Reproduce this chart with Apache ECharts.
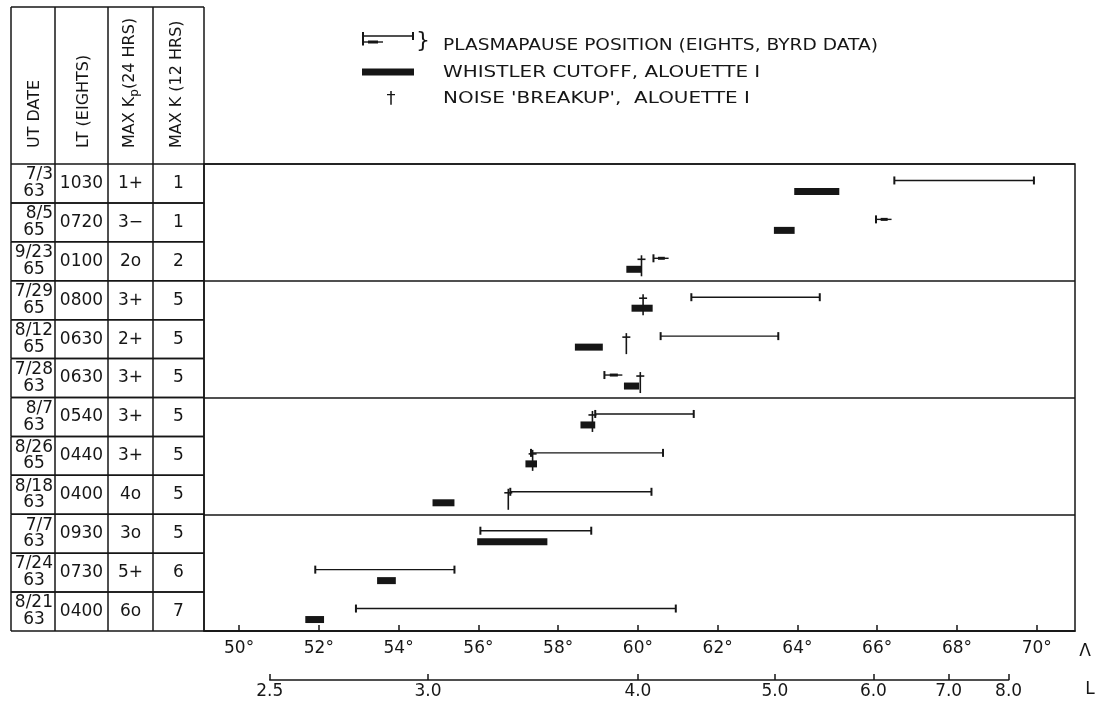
<!DOCTYPE html>
<html><head><meta charset="utf-8">
<script src="https://cdn.jsdelivr.net/npm/echarts@6/dist/echarts.min.js"></script>
<style>html,body{margin:0;padding:0;background:#fff;}#c{width:1099px;height:704px;}</style>
</head><body><div id="c"></div>
<script>
// ---------- data ----------
const dateMD = ['7/3','8/5','9/23','7/29','8/12','7/28','8/7','8/26','8/18','7/7','7/24','8/21'];
const dateYY = ['63','65','65','65','65','63','63','65','63','63','63','63'];
const ltEights = ['1030','0720','0100','0800','0630','0630','0540','0440','0400','0930','0730','0400'];
const maxKp24 = ['1+','3\u2212','2o','3+','2+','3+','3+','3+','4o','3o','5+','6o'];
const maxK12 = ['1','1','2','5','5','5','5','5','5','5','6','7'];
// plasmapause position (Eights, Byrd data), invariant latitude in degrees
const ppStart = [66.43,65.97,60.39,61.34,60.57,59.16,58.93,57.32,56.80,56.05,51.91,52.93];
const ppEnd   = [69.93,66.36,60.77,64.56,63.52,59.61,61.40,60.63,60.34,58.83,55.40,60.95];
const ppKind  = ['range','short','short','range','range','short','range','range','range','range','range','range'];
// whistler cutoff, Alouette I
const whStart = [63.92,63.41,59.71,59.84,58.42,59.65,58.56,57.18,54.85,55.97,53.46,51.66];
const whEnd   = [65.05,63.93,60.08,60.37,59.12,60.03,58.93,57.47,55.40,57.73,53.93,52.13];
// noise 'breakup', Alouette I
const noiseBreakup = [null,null,60.09,60.13,59.71,60.06,58.86,57.36,56.75,null,null,null];
// tick labels
const lambdaTicks = [50,52,54,56,58,60,62,64,66,68,70];
const lTicks = [2.5,3.0,4.0,5.0,6.0,7.0,8.0];
const headers = ['UT DATE','LT (EIGHTS)','MAX K{s|p}(24 HRS)','MAX K (12 HRS)'];
const legendTexts = ['PLASMAPAUSE POSITION (EIGHTS, BYRD DATA)','WHISTLER CUTOFF, ALOUETTE I',"NOISE 'BREAKUP',  ALOUETTE I"];

// ---------- layout / style ----------
const INK = '#161616';
const FONT = 'DejaVu Sans';
const G = {left: 204, top: 164, width: 871, height: 467};
const xMin = 49.12, xMax = 70.96;
const pxPerDeg = G.width / (xMax - xMin);
const lamOfL = L => Math.acos(1 / Math.sqrt(L)) * 180 / Math.PI;
const LofLam = a => 1 / Math.pow(Math.cos(a * Math.PI / 180), 2);
const lx0 = G.left + (lamOfL(lTicks[0]) - xMin) * pxPerDeg;
const lx1 = G.left + (lamOfL(lTicks[lTicks.length - 1]) - xMin) * pxPerDeg;
const colEdges = [0, 44, 97, 142, 193];
const T = {left: 11, top: G.top, width: 193, height: G.height};
const rows = dateMD.map((_, i) => i);

function ln(x1, y1, x2, y2, w) {
  return {type: 'line', shape: {x1, y1, x2, y2}, style: {stroke: INK, lineWidth: w || 1.5}};
}
function tx(text, x, y, align, size) {
  return {type: 'text', style: {text, x, y, align, verticalAlign: 'middle', fill: INK,
    font: (size || 17) + 'px "' + FONT + '"'}};
}

function renderTable(params, api) {
  const i = api.value(0);
  const top = api.coord([0, i])[1];
  const bot = api.coord([0, i + 1])[1];
  const h = bot - top;
  const xs = colEdges.map(c => api.coord([c, i])[0]);
  const ch = [ln(xs[0], top, xs[4], top), ln(xs[0], bot, xs[4], bot)];
  xs.forEach(x => ch.push(ln(x, top, x, bot)));
  ch.push(tx(dateMD[i], xs[1] - 2, top + h * 0.28, 'right'));
  ch.push(tx(dateYY[i], (xs[0] + xs[1]) / 2 + 1, top + h * 0.71, 'center'));
  ch.push(tx(ltEights[i], (xs[1] + xs[2]) / 2, (top + bot) / 2, 'center'));
  ch.push(tx(maxKp24[i], (xs[2] + xs[3]) / 2, (top + bot) / 2, 'center'));
  ch.push(tx(maxK12[i], (xs[3] + xs[4]) / 2, (top + bot) / 2, 'center'));
  return {type: 'group', children: ch};
}

function renderPP(params, api) {
  const r = api.value(2) + 0.5;
  const s = api.coord([api.value(0), r]);
  const e = api.coord([api.value(1), r]);
  const y = s[1] - 3;
  const ch = [ln(s[0], y, e[0], y, 1.4), ln(s[0], y - 4, s[0], y + 4, 2)];
  if (ppKind[params.dataIndex] === 'range') {
    ch.push(ln(e[0], y - 4, e[0], y + 4, 2));
  } else {
    ch.push(ln(s[0] + (e[0] - s[0]) * 0.3, y, s[0] + (e[0] - s[0]) * 0.75, y, 3));
  }
  return {type: 'group', children: ch};
}

function renderWh(params, api) {
  const r = api.value(2) + 0.5;
  const s = api.coord([api.value(0), r]);
  const e = api.coord([api.value(1), r]);
  return {type: 'rect', shape: {x: s[0], y: s[1] + 8 - 3.5, width: e[0] - s[0], height: 7},
    style: {fill: INK}};
}

function renderNoise(params, api) {
  const p = api.coord([api.value(0), api.value(1) + 0.5]);
  return {type: 'group', children: [
    ln(p[0], p[1] - 6, p[0], p[1] + 15, 1.6),
    ln(p[0] - 4, p[1] - 2, p[0] + 4, p[1] - 2, 1.6)
  ]};
}

// ---------- header & legend graphics ----------
const graphics = [];
graphics.push(ln(T.left, 7, T.left + T.width, 7));
colEdges.forEach(c => graphics.push(ln(T.left + c, 7, T.left + c, T.top)));
const headerX = [35, 84, 130, 177];
headers.forEach((h, k) => {
  graphics.push({type: 'text', x: headerX[k], y: 148, rotation: Math.PI / 2,
    style: {text: h, align: 'left', verticalAlign: 'middle', fill: INK, font: '16px "' + FONT + '"',
      rich: {s: {fontSize: 12, fontFamily: FONT, fill: INK, padding: [9, 0, 0, 0]}}}});
});
// legend icons
graphics.push(ln(363, 36, 413, 36, 1.4), ln(363, 32, 363, 40, 2), ln(413, 32, 413, 40, 2));
graphics.push(ln(363, 42, 383, 42, 1.4), ln(363, 38.5, 363, 45.5, 2), ln(368, 42, 378, 42, 3));
graphics.push({type: 'text', x: 416, y: 41, style: {text: '}', align: 'left', verticalAlign: 'middle',
  fill: INK, font: '22px "' + FONT + '"'}});
graphics.push({type: 'rect', shape: {x: 362, y: 68.5, width: 52, height: 7}, style: {fill: INK}});
graphics.push({type: 'text', x: 391, y: 99, style: {text: '\u2020', align: 'center', verticalAlign: 'middle',
  fill: INK, font: '18px "' + FONT + '"'}});
const legendY = [46.5, 73, 99];
const legendScale = [1.24, 1.33, 1.33];
legendTexts.forEach((t, k) => graphics.push({type: 'text', x: 443, y: legendY[k], scaleX: legendScale[k],
  style: {text: t, align: 'left', verticalAlign: 'middle', fill: INK, font: '15px "' + FONT + '"'}}));
// axis names
graphics.push({type: 'text', x: 1085, y: 652, style: {text: '\u039B', align: 'center', verticalAlign: 'middle',
  fill: INK, font: '17px "' + FONT + '"'}});
graphics.push({type: 'text', x: 1090, y: 690, style: {text: 'L', align: 'center', verticalAlign: 'middle',
  fill: INK, font: '17px "' + FONT + '"'}});

const chart = echarts.init(document.getElementById('c'));
chart.setOption({
  animation: false,
  backgroundColor: '#fff',
  grid: [
    {left: G.left, top: G.top, width: G.width, height: G.height, show: true, borderColor: INK, borderWidth: 1.5, backgroundColor: 'transparent'},
    {left: T.left, top: T.top, width: T.width, height: T.height},
    {left: lx0, width: lx1 - lx0, top: 640, height: 40}
  ],
  xAxis: [
    {type: 'value', gridIndex: 0, min: xMin, max: xMax, position: 'bottom',
      axisLine: {show: true, onZero: false, lineStyle: {color: INK, width: 1.5}},
      axisTick: {show: true, inside: true, length: 6, customValues: lambdaTicks, lineStyle: {color: INK, width: 1.5}},
      axisLabel: {customValues: lambdaTicks, formatter: v => v + '\u00B0', color: INK, fontFamily: FONT, fontSize: 17, margin: 9},
      splitLine: {show: false}},
    {type: 'value', gridIndex: 1, min: 0, max: colEdges[colEdges.length - 1], show: false},
    {type: 'value', gridIndex: 2, min: lamOfL(lTicks[0]), max: lamOfL(lTicks[lTicks.length - 1]), position: 'bottom',
      axisLine: {show: true, onZero: false, lineStyle: {color: INK, width: 1.5}},
      axisTick: {show: true, inside: true, length: 6, customValues: lTicks.map(lamOfL), lineStyle: {color: INK, width: 1.5}},
      axisLabel: {customValues: lTicks.map(lamOfL), formatter: v => LofLam(v).toFixed(1), color: INK, fontFamily: FONT, fontSize: 17, margin: 3, showMinLabel: true, showMaxLabel: true},
      splitLine: {show: false}}
  ],
  yAxis: [
    {type: 'value', gridIndex: 0, min: 0, max: 12, interval: 3, inverse: true,
      axisLine: {show: false}, axisTick: {show: false}, axisLabel: {show: false},
      splitLine: {show: true, lineStyle: {color: INK, width: 1.5}}},
    {type: 'value', gridIndex: 1, min: 0, max: 12, inverse: true, show: false},
    {type: 'value', gridIndex: 2, min: 0, max: 1, show: false}
  ],
  graphic: graphics,
  series: [
    {type: 'custom', xAxisIndex: 1, yAxisIndex: 1, renderItem: renderTable,
      data: rows.map(i => [i]), encode: {y: 0}, silent: true},
    {type: 'custom', name: 'Plasmapause', xAxisIndex: 0, yAxisIndex: 0, renderItem: renderPP,
      data: rows.map(i => [ppStart[i], ppEnd[i], i]), encode: {x: [0, 1], y: 2}},
    {type: 'custom', name: 'Whistler cutoff', xAxisIndex: 0, yAxisIndex: 0, renderItem: renderWh,
      data: rows.map(i => [whStart[i], whEnd[i], i]), encode: {x: [0, 1], y: 2}},
    {type: 'custom', name: 'Noise breakup', xAxisIndex: 0, yAxisIndex: 0, renderItem: renderNoise,
      data: rows.filter(i => noiseBreakup[i] !== null).map(i => [noiseBreakup[i], i]), encode: {x: 0, y: 1}}
  ]
});
</script>
</body></html>
